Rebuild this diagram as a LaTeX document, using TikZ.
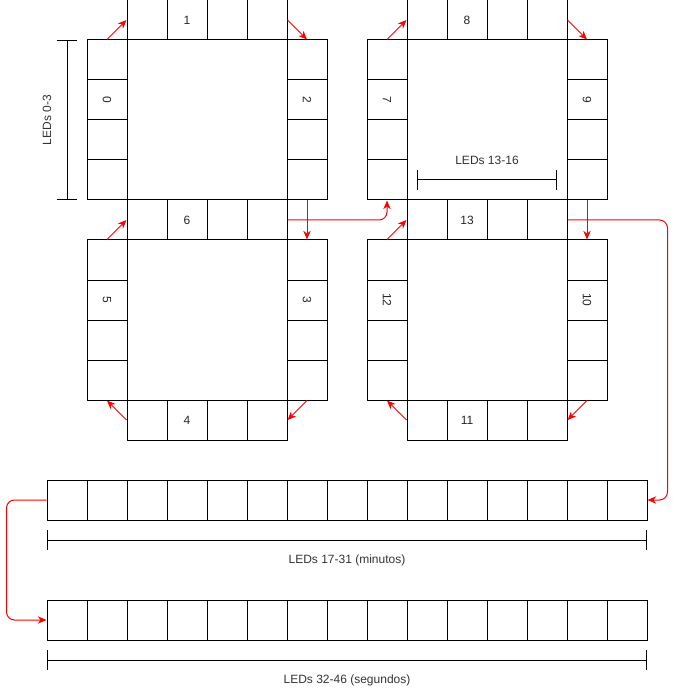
\documentclass[tikz,border=0pt]{standalone}
\usepackage{fontspec}
\setmainfont{Liberation Sans}
\usetikzlibrary{arrows.meta}
\begin{document}
\begin{tikzpicture}[x=0.75pt,y=-0.75pt,
  cell/.style={draw=black,line width=0.75pt,minimum size=30pt,inner sep=0pt,font=\fontsize{9}{11}\selectfont,text=black!85},
  bigsq/.style={draw=black,line width=0.75pt,minimum size=120pt,inner sep=0pt},
  arr/.style={draw=red,line width=0.75pt,-{Stealth[length=6.5pt,width=5.5pt,inset=2pt]}},
  dim/.style={draw=black,line width=0.75pt,{Bar[width=15pt]}-{Bar[width=15pt]}},
  lbl/.style={font=\fontsize{9}{11}\selectfont,text=black!80,inner sep=0pt}]
\useasboundingbox (0,0) rectangle (676,691);
\newcommand{\rl}[1]{\rotatebox[origin=c]{-90}{#1}}
\foreach \d/\dx/\sT/\sUL/\sUR/\sM/\sLL/\sLR/\sB in {a/0/1/0/2/6/5/3/4, b/280/8/7/9/13/12/10/11}{
  \node[bigsq] (\d-C1) at (\dx+207,120) {};
  \node[bigsq] (\d-C2) at (\dx+207,320) {};
  \foreach \i in {1,...,4}{
    \node[cell] (\d-T\i) at (\dx+107+40*\i,20) {\ifnum\i=2 \sT\fi};
    \node[cell] (\d-M\i) at (\dx+107+40*\i,220) {\ifnum\i=2 \sM\fi};
    \node[cell] (\d-B\i) at (\dx+107+40*\i,420) {\ifnum\i=2 \sB\fi};
    \node[cell] (\d-UL\i) at (\dx+107,20+40*\i) {\ifnum\i=2 \rl{\sUL}\fi};
    \node[cell] (\d-UR\i) at (\dx+307,20+40*\i) {\ifnum\i=2 \rl{\sUR}\fi};
    \node[cell] (\d-LL\i) at (\dx+107,220+40*\i) {\ifnum\i=2 \rl{\sLL}\fi};
    \node[cell] (\d-LR\i) at (\dx+307,220+40*\i) {\ifnum\i=2 \rl{\sLR}\fi};
  }
  \draw[arr] (\d-UL1.north) -- (\d-T1.west);
  \draw[arr] (\d-T4.east) -- (\d-UR1.north);
  \draw[arr] (\d-UR4.south) -- (\d-LR1.north);
  \draw[arr] (\d-LR4.south) -- (\d-B4.east);
  \draw[arr] (\d-B1.west) -- (\d-LL4.south);
  \draw[arr] (\d-LL1.north) -- (\d-M1.west);
}
\foreach \i in {1,...,15}{
  \node[cell] (s1-\i) at (27+40*\i,500) {};
  \node[cell] (s2-\i) at (27+40*\i,620) {};
}
\draw[arr,rounded corners=6pt] (a-M4.east) -| (b-UL4.south);
\draw[arr,rounded corners=6pt] (b-M4.east) -- ++(100,0) |- (s1-15.east);
\draw[arr,rounded corners=6pt] (s1-1.west) -- ++(-40,0) |- (s2-1.west);
% dimension lines
\coordinate (d1a) at (67,40); \coordinate (d1b) at (67,200);
\draw[dim] (d1a) -- (d1b);
\node[lbl,rotate=90] (l1) at (47,120) {LEDs 0-3};
\coordinate (d2a) at (417,180); \coordinate (d2b) at (557,180);
\draw[dim] (d2a) -- (d2b);
\node[lbl] (l2) at (487,160) {LEDs 13-16};
\coordinate (d3a) at (47,540); \coordinate (d3b) at (647,540);
\draw[dim] (d3a) -- (d3b);
\node[lbl] (l3) at (347,560) {LEDs 17-31 (minutos)};
\coordinate (d4a) at (47,660); \coordinate (d4b) at (647,660);
\draw[dim] (d4a) -- (d4b);
\node[lbl] (l4) at (347,680) {LEDs 32-46 (segundos)};
\end{tikzpicture}
\end{document}
